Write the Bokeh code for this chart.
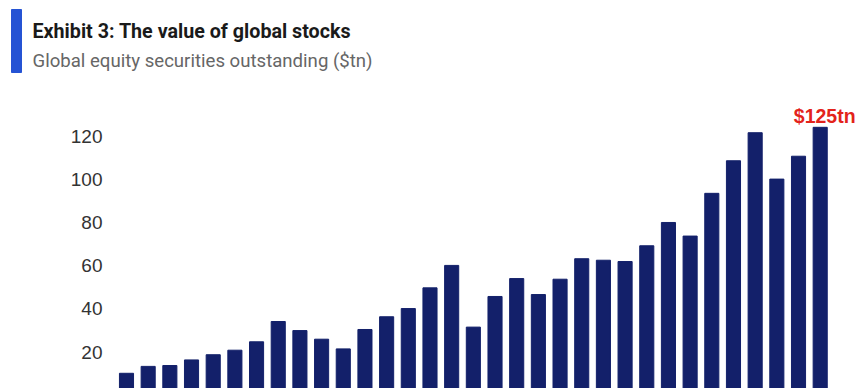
from bokeh.plotting import figure
from bokeh.models import Range1d, FixedTicker
from bokeh.layouts import column
from bokeh.core.properties import value
from bokeh.embed import file_html
from bokeh.resources import INLINE

# ---- data ----
title_text = "Exhibit 3: The value of global stocks"
subtitle_text = "Global equity securities outstanding ($tn)"
values = [10.2, 13.4, 13.8, 16.4, 18.8, 20.9, 24.8, 34.2, 30.0, 26.0, 21.5,
          30.5, 36.4, 40.2, 49.8, 60.2, 31.6, 45.8, 54.1, 46.7, 53.8, 63.3,
          62.6, 62.0, 69.3, 80.1, 73.8, 93.6, 108.7, 121.7, 100.2, 110.8, 124.2]
y_ticks = [20, 40, 60, 80, 100, 120]
last_label = "$125tn"

positions = list(range(len(values)))

# ---- header figure (pixel coordinates, y downward) ----
head = figure(width=865, height=80, x_range=Range1d(0, 865), y_range=Range1d(80, 0),
              output_backend="svg", toolbar_location=None, min_border=0,
              x_axis_type=None, y_axis_type=None)
head.frame_align = False
head.grid.visible = False
head.outline_line_color = None
head.quad(left=[11], right=[21], top=[9], bottom=[72], color="#2553d4")
head.text(x=[32], y=[31], text=[title_text], text_font=value("Roboto"),
          text_font_style="bold", text_font_size="19.7px", text_color="#1a1a1a",
          text_baseline="alphabetic", text_align="left")
head.text(x=[32], y=[60], text=[subtitle_text], text_font=value("Roboto"),
          text_font_size="18.6px", text_color="#666666",
          text_baseline="alphabetic", text_align="left")

# ---- main chart ----
p = figure(width=865, height=308, x_range=Range1d(-0.83, 34.09), y_range=Range1d(3.15, 145.9),
           output_backend="svg", toolbar_location=None,
           min_border_left=108, min_border_right=0, min_border_top=0, min_border_bottom=0,
           x_axis_type=None)
p.frame_align = False
p.grid.visible = False
p.outline_line_color = None
p.yaxis.ticker = FixedTicker(ticks=y_ticks)
p.yaxis.axis_line_color = None
p.yaxis.major_tick_line_color = None
p.yaxis.minor_tick_line_color = None
p.yaxis.major_tick_in = 0
p.yaxis.major_tick_out = 0
p.yaxis.major_label_standoff = 6
p.yaxis.major_label_text_font = "Liberation Sans"
p.yaxis.major_label_text_font_size = "19px"
p.yaxis.major_label_text_color = "#333333"

p.vbar(x=positions, top=values, bottom=0, width=0.65, color="#13206a")

p.text(x=[positions[-1]], y=[values[-1]], text=[last_label], text_align="center",
       text_baseline="alphabetic", y_offset=-11, x_offset=4.5,
       text_font=value("Liberation Sans"), text_font_style="bold",
       text_font_size="19.5px", text_color="#e3231b")

layout = column(head, p, spacing=0)
open("out.html", "w").write(file_html(layout, INLINE))
